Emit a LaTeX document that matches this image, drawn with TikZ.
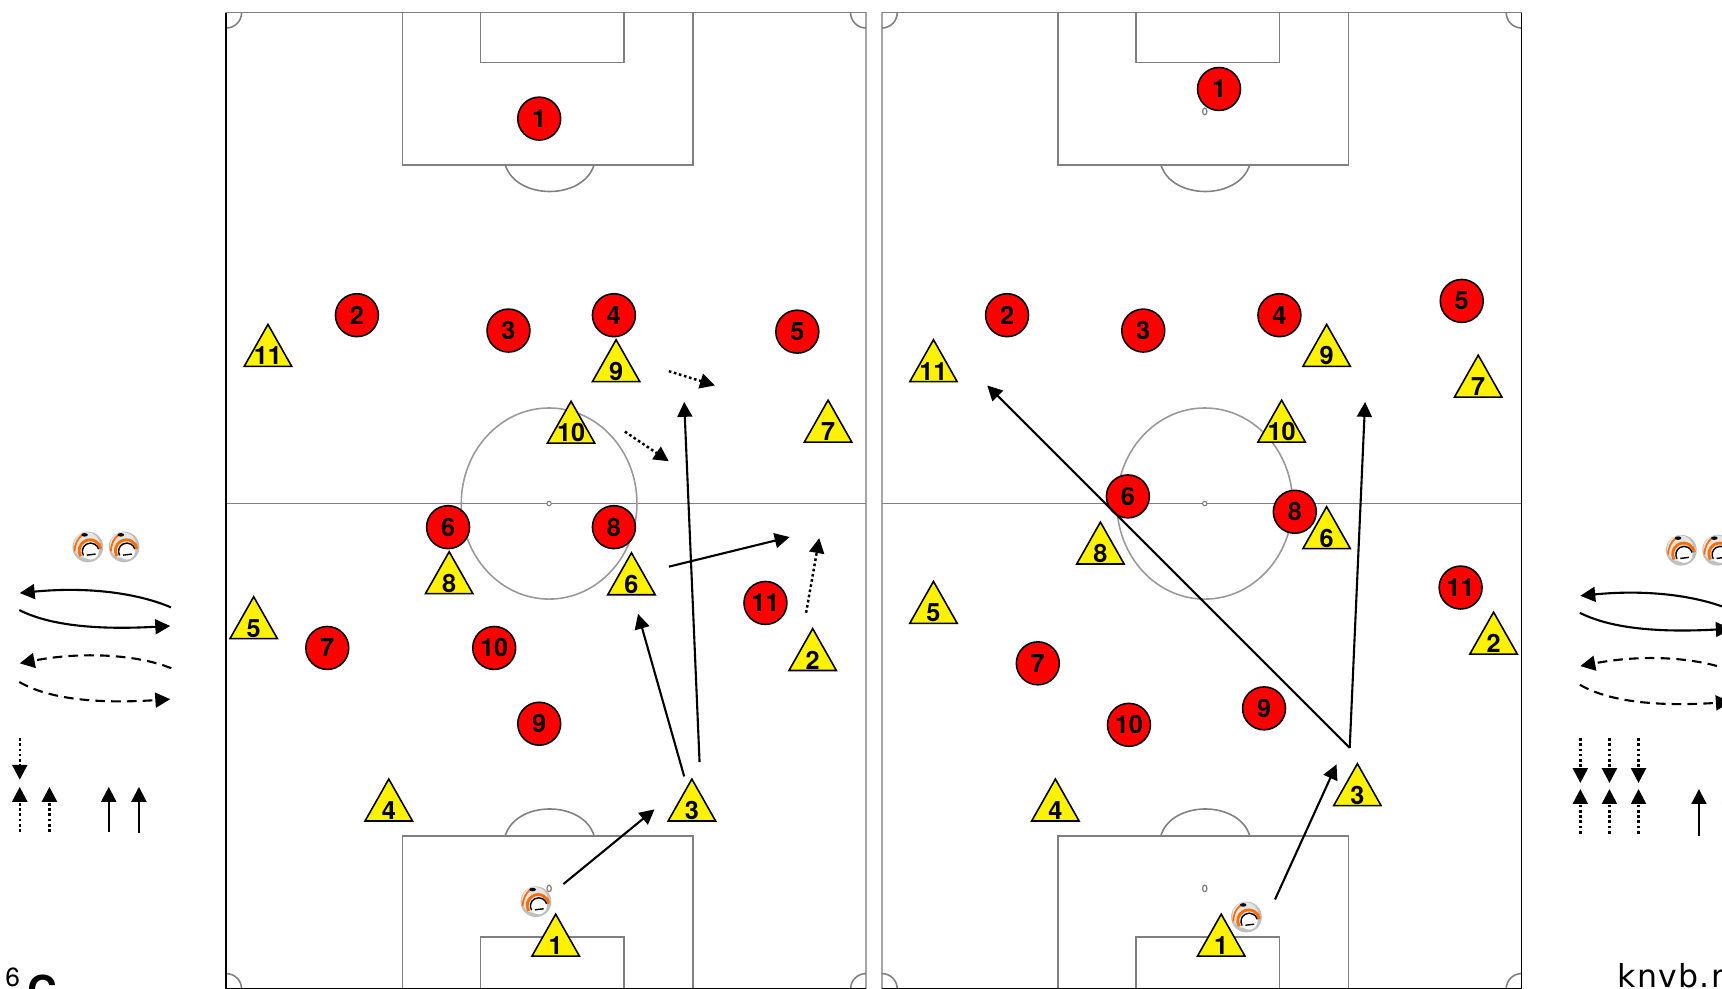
\documentclass[tikz,border=0pt]{standalone}
\usepackage{fontspec}
\setmainfont{TeX Gyre Heros}
\newfontfamily\sitefont[LetterSpace=4]{DejaVu Sans}
\usetikzlibrary{arrows.meta,shapes.geometric}

\newcommand{\tnum}[1]{\makebox[0pt]{\raisebox{-0.49em}[0pt][0pt]{#1}}}

\begin{document}
\begin{tikzpicture}[
                x=0.022cm,
                y=-0.022cm,
                >={Triangle[length=8.5pt,width=8.5pt]},
                line width=1.2pt,
                % Rode spelers (cirkel)
                home/.style={
                    draw=black,
                    fill=red,
                    circle,
                    line width=0.9pt,
                    inner sep=0pt,
                    minimum size=0.86cm,
                    font=\fontsize{14.4}{16}\selectfont\bfseries
                },
                % Gele spelers (driehoek)
                away/.style={
                    draw=black,
                    fill=yellow,
                    isosceles triangle,
                    isosceles triangle apex angle=59,
                    isosceles triangle stretches,
                    shape border rotate=90,
                    line width=0.9pt,
                    inner sep=0pt,
                    minimum height=0.84cm,
                    minimum width=0.95cm,
                    yshift=1.9pt,
                    font=\fontsize{14.4}{16}\selectfont\bfseries
                },
                pass/.style={->},
                run/.style={->,line width=1.4pt,dash pattern=on 1.5pt off 1.5pt},
                dashpass/.style={->,dash pattern=on 5.5pt off 3.5pt},
                fieldline/.style={draw=black!50,line width=0.9pt},
                pitch/.pic={
                    \draw[fieldline,draw=black!35] (0,0) rectangle (582.5,889);
                    \draw[fieldline] (0,0) -- (582.5,0);
                    \draw[fieldline] (0,447) -- (582.5,447);
                    \draw[fieldline,draw=black!40] (294,447) ellipse (80 and 87);
                    \draw[fieldline,line width=0.6pt,fill=white] (294,447) circle (2);
                    % Strafschopgebied boven
                    \draw[fieldline] (160.5,0) -- (160.5,138.5) -- (425,138.5) -- (425,0);
                    \draw[fieldline] (231.5,0) -- (231.5,45.5) -- (362,45.5) -- (362,0);
                    \draw[fieldline] (254,138.5) .. controls (264,171) and (325,171) .. (335,138.5);
                    \draw[fieldline,line width=0.7pt,fill=white] (294,90) ellipse (2 and 3);
                    % Strafschopgebied onder
                    \draw[fieldline] (160.5,889) -- (160.5,749.5) -- (425,749.5) -- (425,889);
                    \draw[fieldline] (231.5,889) -- (231.5,841.5) -- (362,841.5) -- (362,889);
                    \draw[fieldline] (254,749.5) .. controls (264,717) and (325,717) .. (335,749.5);
                    \draw[fieldline,line width=0.7pt,fill=white] (294,797.5) ellipse (2 and 3);
                    % Hoekschopbogen
                    \draw[fieldline] (14,0) arc (0:90:14);
                    \draw[fieldline] (568.5,0) arc (180:90:14);
                    \draw[fieldline] (14,889) arc (0:-90:14);
                    \draw[fieldline] (568.5,889) arc (180:270:14);
                },
                ball/.pic={
                    \fill[black!25] (0,0) circle (14);
                    \fill[black!10] (-1,-1.5) circle (12);
                    \fill[white] (2.5,4) circle (7.5);
                    \draw[orange!85!red,line width=1.6pt] (2,3.5) ++(150:10) arc (150:350:10);
                    \draw[black,line width=0.8pt] (2.5,4) ++(150:7.5) arc (150:345:7.5);
                    \draw[orange!85!red,line width=1pt] (-12,4) .. controls (-12,-3) and (-9,-8) .. (-5,-11);
                    \fill[black] (-3,-11) ellipse (3 and 1.6);
                    \draw[black,line width=0.8pt] (-1,7.5) -- (7,6.5);
                },
                legendcurves/.pic={
                    \draw[pass] (155.6,553) .. controls (125,540) and (80,534) .. (18,540);
                    \draw[pass] (17.6,555.5) .. controls (50,572) and (100,573) .. (155,570);
                    \draw[dashpass] (156,608.5) .. controls (125,596) and (75,593) .. (18,604);
                    \draw[dashpass] (17.6,621) .. controls (50,640) and (105,640) .. (155,636.6);
                }
            ]

                \useasboundingbox (0,0) rectangle (1568,900.5);
                \clip (0,0) rectangle (1568,900.5);

                % ========================================================
                % 1. Speelvelden
                % ========================================================
                \pic (fieldA) at (206,11.5) {pitch};
                \pic (fieldB) at (803,11.5) {pitch};

                % Donkere randen
                \draw[line width=0.9pt] (206,11.5) -- (206,900) -- (788.5,900);
                \draw[line width=0.9pt] (803,900) -- (1385.5,900) -- (1385.5,11.5);

                % ========================================================
                % 2. Ballen
                % ========================================================
                \pic (ballA) at (488,821) {ball};
                \pic (ballB) at (1135,835) {ball};
                \pic (ballC) at (80,498) {ball};
                \pic (ballD) at (113,498) {ball};
                \pic (ballE) at (1531,501) {ball};
                \pic (ballF) at (1564,501) {ball};

                % ========================================================
                % 3. Linker veld: rood
                % ========================================================
                \node[home] (aR1) at (491,108) {1};
                \node[home] (aR2) at (325,287) {2};
                \node[home] (aR3) at (463,301) {3};
                \node[home] (aR4) at (559,287) {4};
                \node[home] (aR5) at (726,302) {5};
                \node[home] (aR6) at (408,480) {6};
                \node[home] (aR7) at (298,590) {7};
                \node[home] (aR8) at (559,480) {8};
                \node[home] (aR9) at (491,659) {9};
                \node[home] (aR10) at (450,590) {10};
                \node[home] (aR11) at (697,549) {11};

                % ========================================================
                % 4. Linker veld: geel
                % ========================================================
                \node[away] (aY1) at (506,861) {\tnum{1}};
                \node[away] (aY2) at (740,601) {\tnum{2}};
                \node[away] (aY3) at (630,738) {\tnum{3}};
                \node[away] (aY4) at (354,738) {\tnum{4}};
                \node[away] (aY5) at (231,572) {\tnum{5}};
                \node[away] (aY6) at (575,532) {\tnum{6}};
                \node[away] (aY7) at (754,393) {\tnum{7}};
                \node[away] (aY8) at (409,531) {\tnum{8}};
                \node[away] (aY9) at (561,338) {\tnum{9}};
                \node[away] (aY10) at (520,394) {\tnum{10}};
                \node[away] (aY11) at (244,324) {\tnum{11}};

                % ========================================================
                % 5. Rechter veld: rood
                % ========================================================
                \node[home] (bR1) at (1110,81) {1};
                \node[home] (bR2) at (917,287) {2};
                \node[home] (bR3) at (1041,301) {3};
                \node[home] (bR4) at (1165,287) {4};
                \node[home] (bR5) at (1331,274) {5};
                \node[home] (bR6) at (1027,452) {6};
                \node[home] (bR7) at (945,604) {7};
                \node[home] (bR8) at (1179,466) {8};
                \node[home] (bR9) at (1151,645) {9};
                \node[home] (bR10) at (1028,660) {10};
                \node[home] (bR11) at (1330,535) {11};

                % ========================================================
                % 6. Rechter veld: geel
                % ========================================================
                \node[away] (bY1) at (1112,861) {\tnum{1}};
                \node[away] (bY2) at (1360,586) {\tnum{2}};
                \node[away] (bY3) at (1236,724) {\tnum{3}};
                \node[away] (bY4) at (961,738) {\tnum{4}};
                \node[away] (bY5) at (850,558) {\tnum{5}};
                \node[away] (bY6) at (1208,490) {\tnum{6}};
                \node[away] (bY7) at (1346,352) {\tnum{7}};
                \node[away] (bY8) at (1002,504) {\tnum{8}};
                \node[away] (bY9) at (1208,324) {\tnum{9}};
                \node[away] (bY10) at (1167,393) {\tnum{10}};
                \node[away] (bY11) at (850,338) {\tnum{11}};

                % ========================================================
                % 7. Pijlen linker veld
                % ========================================================
                \coordinate (aP1s) at (513,805);
                \coordinate (aP1e) at (596,737);
                \coordinate (aP2s) at (623,707);
                \coordinate (aP2e) at (581,559);
                \coordinate (aP3s) at (637,694);
                \coordinate (aP3e) at (623,366);
                \coordinate (aP4s) at (609,516);
                \coordinate (aP4e) at (719,489);
                \draw[pass] (aP1s) -- (aP1e);
                \draw[pass] (aP2s) -- (aP2e);
                \draw[pass] (aP3s) -- (aP3e);
                \draw[pass] (aP4s) -- (aP4e);

                % Looplijnen (gestippeld)
                \coordinate (aM1s) at (734,558);
                \coordinate (aM1e) at (746,490);
                \coordinate (aM2s) at (609,338);
                \coordinate (aM2e) at (651,351);
                \coordinate (aM3s) at (569,393);
                \coordinate (aM3e) at (609,420);
                \draw[run] (aM1s) -- (aM1e);
                \draw[run] (aM2s) -- (aM2e);
                \draw[run] (aM3s) -- (aM3e);

                % ========================================================
                % 8. Pijlen rechter veld
                % ========================================================
                \coordinate (bP1s) at (1161,819);
                \coordinate (bP1e) at (1217,696);
                \coordinate (bP2s) at (1229,681);
                \coordinate (bP2e) at (1243,366);
                \coordinate (bP3e) at (899,351);
                \draw[pass] (bP1s) -- (bP1e);
                \draw[pass] (bP2s) -- (bP2e);
                \draw[pass] (bP2s) -- (bP3e);

                % ========================================================
                % 9. Legenda links en rechts
                % ========================================================
                \pic (legA) at (0,0) {legendcurves};
                \pic (legB) at (1421,2.5) {legendcurves};

                \draw[run] (18,672) -- (18,710);
                \draw[run] (18,757.5) -- (18,716.5);
                \draw[run] (45,757.5) -- (45,716.5);
                \draw[pass] (99,757.5) -- (99,716.5);
                \draw[pass] (126.5,758.5) -- (126.5,716.5);

                \draw[run] (1439,672) -- (1439,713);
                \draw[run] (1465.5,672) -- (1465.5,713);
                \draw[run] (1492,672) -- (1492,713);
                \draw[run] (1439,759) -- (1439,718.5);
                \draw[run] (1465.5,759) -- (1465.5,718.5);
                \draw[run] (1492,759) -- (1492,718.5);
                \draw[pass] (1547,761) -- (1547,718.5);
                \draw[pass] (1575,761) -- (1575,718.5);

                % ========================================================
                % 10. Teksten onderaan
                % ========================================================
                \node[font=\fontsize{15}{16}\selectfont] (pagenr) at (11.5,890) {6};
                \node[font=\fontsize{23.5}{24}\selectfont\bfseries,anchor=base west,inner sep=0pt] (chapter) at (24,915.5) {C};
                \node[font=\sitefont\fontsize{18}{20}\selectfont,anchor=base west,inner sep=0pt] (site) at (1472,899) {knvb.n};

            \end{tikzpicture}
\end{document}
